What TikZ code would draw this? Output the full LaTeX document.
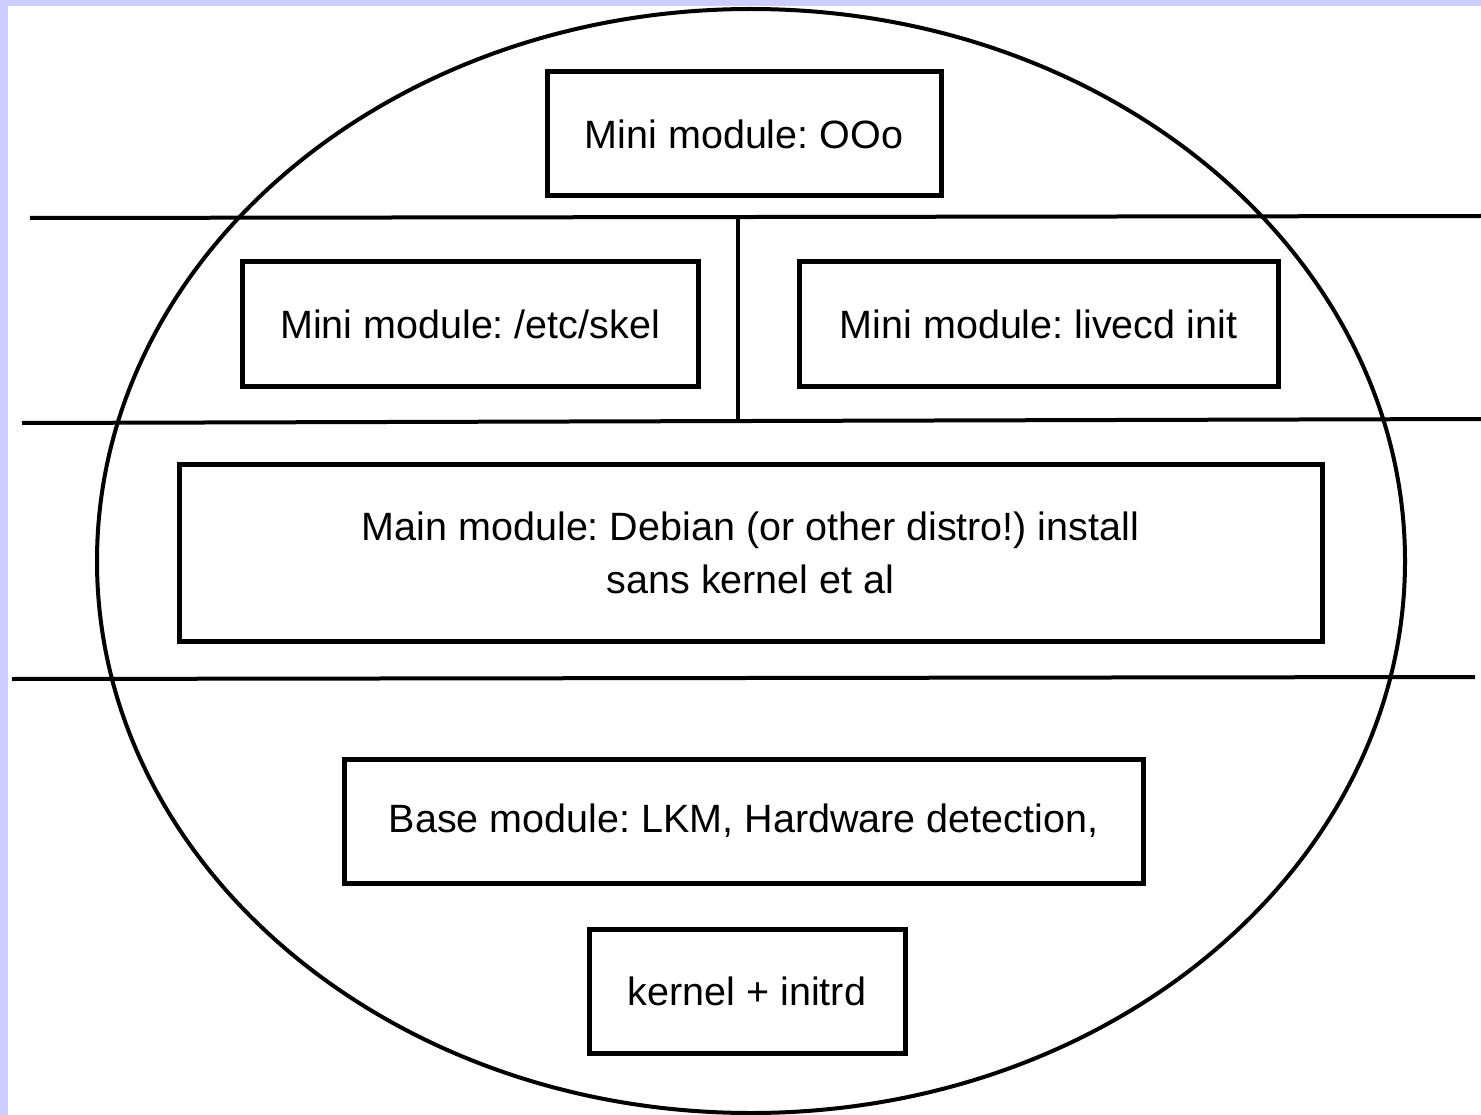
\documentclass[tikz,border=0pt]{standalone}
\usepackage{fontspec}
\setmainfont{Liberation Sans}
\frenchspacing
\begin{document}
\begin{tikzpicture}[x=1pt,y=-1pt,
  modbox/.style={draw=black,line width=5pt,minimum height=124pt,inner sep=0pt,
    font=\fontsize{39.5}{53}\selectfont,align=center},
  rule/.style={draw=black,line width=4pt}]
\useasboundingbox (0,0) rectangle (1481,1115);
\fill[fill={rgb,255:red,204;green,204;blue,255}] (0,0) rectangle (1481,1115);
\fill[white] (8,6) rectangle (1481,1115);
\draw[line width=4pt] (751,561) ellipse [x radius=654, y radius=552];
% rules
\coordinate (l1a) at (30,218); \coordinate (l1b) at (1481,216);
\coordinate (l2a) at (22,423); \coordinate (l2b) at (1481,419);
\coordinate (l3a) at (12,679); \coordinate (l3b) at (1475,677);
\coordinate (va) at (738,217); \coordinate (vb) at (738,421);
\draw[rule] (l1a) -- (l1b);
\draw[rule] (l2a) -- (l2b);
\draw[rule] (l3a) -- (l3b);
\draw[rule] (va) -- (vb);
% boxes
\node[modbox,minimum width=394pt] (ooo) at (744,134) {Mini module: OOo};
\node[modbox,minimum width=456pt] (skel) at (470,324) {Mini module: /etc/skel};
\node[modbox,minimum width=479pt] (init) at (1038.5,324) {Mini module: livecd init};
\node[modbox,minimum width=1143pt,minimum height=177pt] (main) at (750.5,553) {Main module: Debian (or other distro!) install\\sans kernel et al};
\node[modbox,minimum width=799pt] (base) at (743.5,821) {Base module: LKM, Hardware detection,};
\node[modbox,minimum width=316pt] (kern) at (747,991) {kernel + initrd};
\end{tikzpicture}
\end{document}
